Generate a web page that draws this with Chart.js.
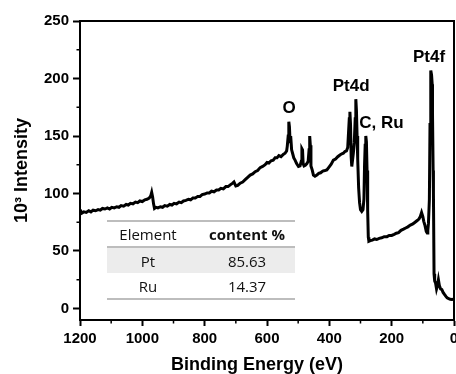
<!DOCTYPE html>
<html>
<head>
<meta charset="utf-8">
<script src="https://cdn.jsdelivr.net/npm/chart.js@4.4.1/dist/chart.umd.min.js"></script>
<style>
    body { margin: 0; background: #fff; }
    #wrap { position: relative; width: 456px; height: 374px; }
    #inset {
        position: absolute; left: 107px; top: 220px; width: 188px;
        border-top: 2px solid #bdbdbd; border-bottom: 2px solid #bdbdbd;
        font-family: "Open Sans", sans-serif; font-size: 15px; color: #111;
    }
    #inset .row { display: flex; align-items: center; height: 25px; }
    #inset .row.head { height: 24px; border-bottom: 2px solid #bdbdbd; }
    #inset .row.shade { background: #ececec; }
    #inset .c1 { width: 82px; text-align: center; }
    #inset .c2 { flex: 1; text-align: center; padding-left: 10px; }
    #inset .head .c2 { font-weight: bold; }
</style>
</head>
<body>
<div id="wrap">
    <canvas id="xps"></canvas>
    <div id="inset"></div>
</div>
<script>
// XPS survey spectrum
const bindingEnergy = [
    1200, 1194, 1188, 1180, 1172, 1165, 1158, 1150, 1142, 1135, 1128, 1120, 1112, 1105, 1098, 1090,
    1082, 1075, 1068, 1060, 1052, 1045, 1038, 1030, 1022, 1015, 1008, 1000, 992, 985, 978, 973,
    970, 967, 964, 961, 956, 950, 942, 935, 928, 920, 912, 905, 898, 890, 882, 875,
    868, 860, 852, 845, 838, 830, 822, 815, 808, 800, 792, 785, 778, 770, 762, 755,
    748, 740, 732, 725, 718, 710, 706, 700, 694, 686, 678, 670, 662, 654, 646, 638,
    630, 622, 614, 606, 600, 594, 587, 580, 574, 568, 562, 555, 548, 542, 537, 535,
    532, 530, 528, 526, 524, 521, 518, 514, 510, 505, 499, 494, 490, 488, 486, 484,
    481, 477, 472, 468, 465, 463, 461, 459, 455, 451, 446, 440, 434, 428, 421, 414,
    408, 401, 394, 387, 380, 373, 366, 360, 355, 350, 345, 341, 339, 336, 334, 332,
    330, 328, 326, 323, 320, 317, 315, 313, 311, 309, 306, 303, 300, 296, 292, 289,
    287, 285, 283, 281, 279, 277, 275, 273, 268, 262, 255, 248, 240, 232, 224, 215,
    208, 200, 192, 185, 178, 170, 162, 155, 148, 140, 132, 125, 118, 112, 108, 104,
    100, 97, 93, 89, 86, 84, 82, 79, 77, 75, 74, 72, 70, 69, 67, 66,
    64, 62, 59, 56, 53, 50, 47, 43, 39, 35, 30, 26, 22, 17, 12, 7,
    3, 0
];
const intensity = [
    86, 83, 84, 83.5, 85, 84, 85.5, 85, 86, 85.5, 87, 86.5, 87.5, 86.5, 88, 87.5,
    88.5, 88, 89.5, 89, 90.5, 90, 91.5, 91, 92.5, 92, 93.5, 93, 94.5, 95, 96, 98,
    101, 97, 91, 87, 88, 87.5, 88.5, 88, 89.5, 89, 90.5, 90, 91.5, 91, 92.5, 92,
    93.5, 94, 95, 94.5, 96, 96, 97.5, 97.5, 99, 99.5, 100.5, 100.5, 102, 101.5, 103, 103,
    104.5, 104, 106, 106, 107.5, 109, 110, 106.5, 107, 109, 110, 112, 114, 116, 117, 119,
    120, 122.5, 123.5, 125, 127, 126.5, 128.5, 129, 131, 131, 133, 132, 134, 135, 137, 141,
    150, 162.5, 158, 145, 150, 138, 135, 131, 129, 126, 123.5, 124, 128, 139, 138, 126,
    124, 124.5, 126, 128, 138, 150, 142, 124, 120.5, 116, 115, 116, 117.5, 118, 119.5, 120,
    120.5, 123, 125.5, 129, 130, 132, 133.5, 134.5, 135, 136.5, 137, 140, 150, 165, 171, 160,
    132, 123.5, 128, 135, 144, 165, 182, 172, 150, 130, 105, 92, 86, 84.5, 86, 95,
    125, 142, 150, 145, 120, 85, 62, 58.5, 59, 59.5, 60.5, 60, 61, 61.5, 62.5, 62.5,
    63.5, 63.5, 64.5, 65.5, 66, 68, 69, 70, 71, 72.5, 73.5, 75, 76.5, 78, 80, 83.5,
    80, 75.8, 72, 67, 65.7, 68, 74, 95, 160, 185, 207, 203, 195, 170, 120, 100,
    30, 24, 22, 17, 20, 25, 20, 17, 16.5, 14, 12, 10.5, 9.3, 8.5, 8, 7.8,
    8, 8.5
];

// axes
const xTicks = [1200, 1000, 800, 600, 400, 200, 0];
const xMinor = [1100, 900, 700, 500, 300, 100];
const yTicks = [0, 50, 100, 150, 200, 250];
const yMinor = [25, 75, 125, 175, 225];

// inset table
const tableHeader = ['Element', 'content %'];
const elements = ['Pt', 'Ru'];
const contents = ['85.63', '14.37'];

// peak labels (energy, intensity where the text sits)
const peakLabels = [
    { text: 'O', x: 529, y: 174, align: 'center' },
    { text: 'Pt4d', x: 330, y: 193, align: 'center' },
    { text: 'C, Ru', x: 304, y: 161, align: 'left' },
    { text: 'Pt4f', x: 80, y: 218, align: 'center' }
];

const FONT = '"Liberation Sans", Arial, sans-serif';

// build the inset table
const inset = document.getElementById('inset');
let html = '<div class="row head"><div class="c1">' + tableHeader[0] + '</div><div class="c2">' + tableHeader[1] + '</div></div>';
elements.forEach((el, i) => {
    html += '<div class="row' + (i === 0 ? ' shade' : '') + '"><div class="c1">' + el + '</div><div class="c2">' + contents[i] + '</div></div>';
});
inset.innerHTML = html;

// frame, minor ticks, peak labels and x title
const framePlugin = {
    id: 'frame',
    afterDraw(chart) {
        const { ctx, chartArea: a, scales: { x, y } } = chart;
        ctx.save();
        ctx.strokeStyle = '#000';
        ctx.lineWidth = 2;
        ctx.strokeRect(a.left, a.top, a.right - a.left, a.bottom - a.top);

        ctx.lineWidth = 1.5;
        ctx.beginPath();
        xMinor.forEach(v => {
            const px = x.getPixelForValue(v);
            ctx.moveTo(px, a.bottom);
            ctx.lineTo(px, a.bottom + 3.5);
        });
        yMinor.forEach(v => {
            const py = y.getPixelForValue(v);
            ctx.moveTo(a.left, py);
            ctx.lineTo(a.left - 3.5, py);
        });
        ctx.stroke();

        ctx.fillStyle = '#000';
        ctx.font = 'bold 17px ' + FONT;
        ctx.textBaseline = 'middle';
        peakLabels.forEach(p => {
            ctx.textAlign = p.align;
            ctx.fillText(p.text, x.getPixelForValue(p.x), y.getPixelForValue(p.y));
        });

        ctx.font = 'bold 18px ' + FONT;
        ctx.textAlign = 'center';
        ctx.fillText('Binding Energy (eV)', (a.left + a.right) / 2 - 10, 365);
        ctx.restore();
    }
};

const tickFont = { family: FONT, size: 15, weight: 'bold' };

new Chart(document.getElementById('xps'), {
    type: 'line',
    data: {
        datasets: [{
            data: bindingEnergy.map((e, i) => ({ x: e, y: intensity[i] })),
            borderColor: '#000',
            borderWidth: 3,
            pointRadius: 0,
            tension: 0,
            fill: false
        }]
    },
    options: {
        responsive: true,
        maintainAspectRatio: false,
        animation: false,
        layout: { padding: { left: 0, right: 2, top: 21, bottom: 0 } },
        plugins: { legend: { display: false }, tooltip: { enabled: false } },
        scales: {
            x: {
                type: 'linear',
                reverse: true,
                min: 0,
                max: 1200,
                afterBuildTicks: s => { s.ticks = xTicks.map(v => ({ value: v })); },
                afterFit: s => { s.height = 54; s.paddingLeft = 0; s.paddingRight = 0; },
                grid: { drawOnChartArea: false, drawTicks: true, tickLength: 6, tickWidth: 2, tickColor: '#000' },
                border: { display: true, color: '#000', width: 2 },
                ticks: { font: tickFont, color: '#000', padding: 4, maxRotation: 0, autoSkip: false, callback: v => String(v) }
            },
            y: {
                type: 'linear',
                min: -10,
                max: 250,
                afterBuildTicks: s => { s.ticks = yTicks.map(v => ({ value: v })); },
                afterFit: s => { s.width = 80; s.paddingTop = 0; s.paddingBottom = 0; },
                grid: { drawOnChartArea: false, drawTicks: true, tickLength: 7, tickWidth: 2, tickColor: '#000' },
                border: { display: true, color: '#000', width: 2 },
                ticks: { font: tickFont, color: '#000', padding: 4, callback: v => String(v) },
                title: {
                    display: true,
                    text: '10³ Intensity',
                    color: '#000',
                    font: { family: FONT, size: 18, weight: 'bold', lineHeight: 1 },
                    padding: { top: 13, bottom: 0 }
                }
            }
        }
    },
    plugins: [framePlugin]
});
</script>
</body>
</html>
